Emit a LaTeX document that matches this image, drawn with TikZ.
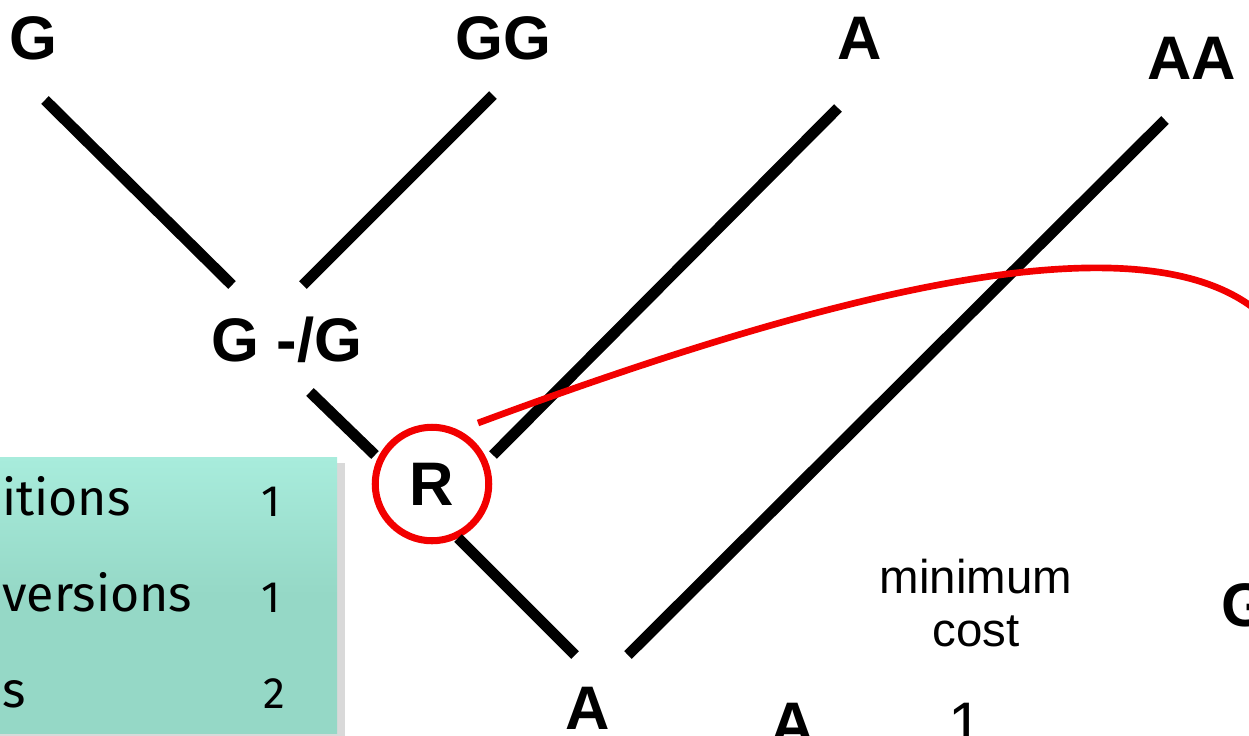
\documentclass[tikz,border=0pt]{standalone}
\usepackage{fontspec}
\setmainfont{Liberation Sans}
\newfontfamily\boxfont{Fira Sans}
\definecolor{boxteal}{HTML}{95D8C6}
\definecolor{boxtop}{HTML}{A8ECDC}
\definecolor{ringred}{HTML}{F20000}

\tikzset{
  branch/.style={line width=6.2pt},
  taxon/.style={font=\fontsize{35}{35}\selectfont\bfseries, inner sep=0pt},
  note/.style={font=\fontsize{27}{30}\selectfont, align=center, inner sep=0pt},
  boxtext/.style={font=\boxfont\fontsize{28.5}{28.5}\selectfont, anchor=base west, inner sep=0pt},
  boxcount/.style={font=\boxfont\fontsize{25}{25}\selectfont, anchor=base west, inner sep=0pt}
}

\begin{document}
\begin{tikzpicture}[x=0.02cm, y=-0.02cm]

\useasboundingbox (0,0) rectangle (1249,735);
\clip (0,0) rectangle (1249,735);

% Cost table
\fill[black!15] (-5,463) rectangle (345,741);
\shade[top color=boxtop, bottom color=boxteal, middle color=boxteal] (-5,457) rectangle (337,733);
\node[boxtext] (t1) at (2,515) {itions};
\node[boxtext] (t2) at (2,611) {versions};
\node[boxtext] (t3) at (2,707) {s};
\node[boxcount] (c1) at (261,516) {1};
\node[boxcount] (c2) at (261,612) {1};
\node[boxcount] (c3) at (263,708) {2};

% Taxa and ancestors
\node[taxon] (g) at (33,38) {G};
\node[taxon] (gg) at (503,38) {GG};
\node[taxon] (a) at (860,38) {A};
\node[taxon] (aa) at (1192,58) {AA};
\node[taxon] (ggap) at (287,340) {G -/G};
\node[taxon, circle, draw=ringred, line width=4pt, minimum size=64.6pt] (root) at (432,484) {R};
\node[taxon] (abot) at (588,708) {A};
\node[taxon] (acol) at (793,724) {A};
\node[taxon, font=\fontsize{35}{35}\selectfont] (one) at (966,724) {1};
\node[taxon] (gcol) at (1245,605) {G};
\node[note] (cost) at (976,603) {minimum\\cost};

% Branch ends
\coordinate (g1) at (45,100);
\coordinate (g2) at (232,285);
\coordinate (gg1) at (493,95);
\coordinate (gg2) at (303,285);
\coordinate (x1) at (310,392);
\coordinate (x2) at (375,455);
\coordinate (a1) at (838,108);
\coordinate (a2) at (493,455);
\coordinate (aa1) at (1165,120);
\coordinate (aa2) at (628,655);
\coordinate (r1) at (458,538);
\coordinate (r2) at (575,655);

\draw[branch] (g1) -- (g2);
\draw[branch] (gg1) -- (gg2);
\draw[branch] (x1) -- (x2);
\draw[branch] (a1) -- (a2);
\draw[branch] (aa1) -- (aa2);
\draw[branch] (r1) -- (r2);

% Pointer from the root
\coordinate (p0) at (478,423);
\coordinate (p1) at (1262,315);
\draw[ringred, line width=3.8pt] (p0) .. controls (850,285) and (1150,215) .. (p1);

\end{tikzpicture}
\end{document}
